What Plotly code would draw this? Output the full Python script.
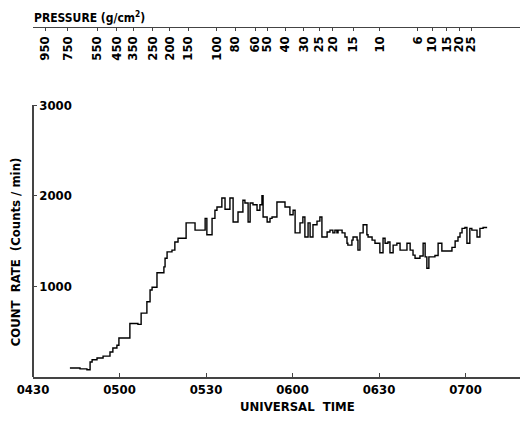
import plotly.graph_objects as go

# Minutes after 04:30 UT (bin edges of the step histogram)
time_edges = [12.8, 16.3, 18.7, 19.8, 20.5, 22.2, 24.3, 26.7, 27.7, 29.1, 29.8, 33.6, 36.4, 37.5,
              39.5, 40.6, 41.3, 43.0, 45.4, 45.8, 46.5, 48.2, 49.2, 50.3, 53.1, 56.2, 59.7, 60.3,
              62.1, 63.1, 63.8, 65.5, 66.6, 68.3, 69.4, 71.1, 72.8, 73.5, 74.6, 75.3, 76.3, 77.7,
              78.7, 79.4, 79.8, 81.2, 82.2, 82.9, 84.6, 87.4, 89.1, 90.2, 90.9, 92.6, 93.6, 94.3,
              95.4, 96.1, 97.1, 98.5, 99.5, 100.2, 102.0, 103.0, 104.0, 104.7, 105.4, 105.8, 107.2,
              108.2, 108.9, 109.2, 110.6, 111.0, 112.4, 112.7, 113.4, 114.5, 115.8, 116.2, 117.6,
              118.6, 120.3, 121.4, 122.1, 123.1, 123.8, 124.9, 126.2, 127.3, 129.7, 130.8, 131.8,
              132.5, 134.2, 135.3, 136.0, 136.6, 137.3, 139.4, 140.5, 141.8, 145.3, 146.4, 147.4,
              148.1, 148.8, 149.8, 150.5, 151.5, 152.2, 154.0, 155.0, 156.1, 157.5]

count_rate = [100, 90, 80, 165, 190, 210, 230, 275, 320, 350, 430, 590, 580, 705,
              830, 960, 990, 1150, 1215, 1310, 1380, 1400, 1490, 1530, 1700, 1620, 1750, 1570,
              1750, 1840, 1875, 1975, 1850, 1975, 1710, 1820, 1950, 1920, 1710, 1920, 1900, 1840,
              1900, 2000, 1765, 1710, 1750, 1765, 1930, 1875, 1790, 1840, 1590, 1700, 1765, 1545,
              1700, 1545, 1680, 1720, 1765, 1545, 1600, 1620, 1590, 1620, 1590, 1620, 1590,
              1545, 1475, 1455, 1510, 1545, 1510, 1400, 1590, 1680, 1570, 1545, 1510,
              1475, 1370, 1530, 1475, 1490, 1370, 1455, 1475, 1400, 1475, 1400, 1345,
              1310, 1335, 1475, 1325, 1200, 1325, 1340, 1475, 1390, 1430, 1500, 1545,
              1590, 1640, 1650, 1475, 1640, 1620, 1545, 1640, 1650]

time_ticks = [0, 30, 60, 90, 120, 150]
time_labels = ["0430", "0500", "0530", "0600", "0630", "0700"]

pressure_times = [4.2, 12.1, 22.2, 29.1, 34.7, 41.6, 47.5, 53.8, 63.8, 70.1, 77.0, 81.2,
                  87.4, 93.8, 99.2, 104.0, 111.0, 120.2, 133.5, 138.4, 143.5, 147.8, 152.0]
pressure_labels = ["950", "750", "550", "450", "350", "250", "200", "150", "100", "80", "60", "50",
                   "40", "30", "25", "20", "15", "10", "6", "10", "15", "20", "25"]

y_ticks = [1000, 2000, 3000]

FONT = "DejaVu Sans Condensed"
AX = "#444444"

x_max = (528 - 33) * 30 / 86.5

fig = go.Figure()
fig.add_trace(go.Scatter(
    x=time_edges, y=count_rate + [count_rate[-1]],
    mode="lines", line=dict(shape="hv", color="black", width=1.4),
    showlegend=False, hoverinfo="skip"))
fig.add_trace(go.Scatter(
    x=pressure_times, y=[None] * len(pressure_times), xaxis="x2", yaxis="y",
    mode="markers", showlegend=False, hoverinfo="skip"))

# page body adds an 8px offset, so the figure is 8px smaller and margins shifted
fig.update_layout(
    width=520, height=414,
    margin=dict(l=25, r=0, t=19, b=45),
    paper_bgcolor="white", plot_bgcolor="white",
    font=dict(family=FONT, size=12, color="black"),
    xaxis=dict(range=[0, x_max], showgrid=False, zeroline=False, automargin=False,
               showline=True, linecolor=AX, linewidth=1.5,
               ticks="inside", ticklen=4, tickcolor=AX, tickwidth=1,
               tickvals=time_ticks, ticktext=time_labels,
               tickfont=dict(family=FONT, size=13, color="black", weight="bold"),
               anchor="y"),
    xaxis2=dict(range=[0, x_max], overlaying="x", anchor="free", position=1.0,
                side="bottom", showgrid=False, zeroline=False, automargin=False,
                showline=True, linecolor=AX, linewidth=1.2,
                ticks="outside", ticklen=3, tickcolor=AX,
                tickvals=pressure_times, ticktext=pressure_labels,
                tickangle=-90, tickfont=dict(family=FONT, size=13, color="black", weight="bold")),
    yaxis=dict(domain=[0, 0.777], range=[0, 3000], showgrid=False, zeroline=False,
               automargin=False, anchor="free", position=0, side="right",
               showline=True, linecolor=AX, linewidth=1.5,
               ticks="outside", ticklen=3, tickcolor=AX,
               tickvals=y_ticks, ticktext=[str(v) for v in y_ticks],
               tickfont=dict(family=FONT, size=13, color="black", weight="bold")),
    annotations=[
        dict(text="PRESSURE (g/cm<sup>2</sup>)", xref="paper", yref="paper",
             x=-0.002, y=1.029, xanchor="left", yanchor="middle", showarrow=False,
             font=dict(family=FONT, size=12, color="black", weight="bold")),
        dict(text="UNIVERSAL  TIME", xref="paper", yref="paper",
             x=0.535, y=-0.083, xanchor="center", yanchor="middle", showarrow=False,
             font=dict(family=FONT, size=13, color="black", weight="bold")),
        dict(text="COUNT  RATE  (Counts / min)", xref="paper", yref="paper",
             x=-0.036, y=0.357, xanchor="center", yanchor="middle", showarrow=False,
             textangle=-90, font=dict(family=FONT, size=13, color="black", weight="bold")),
    ],
)

fig.write_html("out.html")
